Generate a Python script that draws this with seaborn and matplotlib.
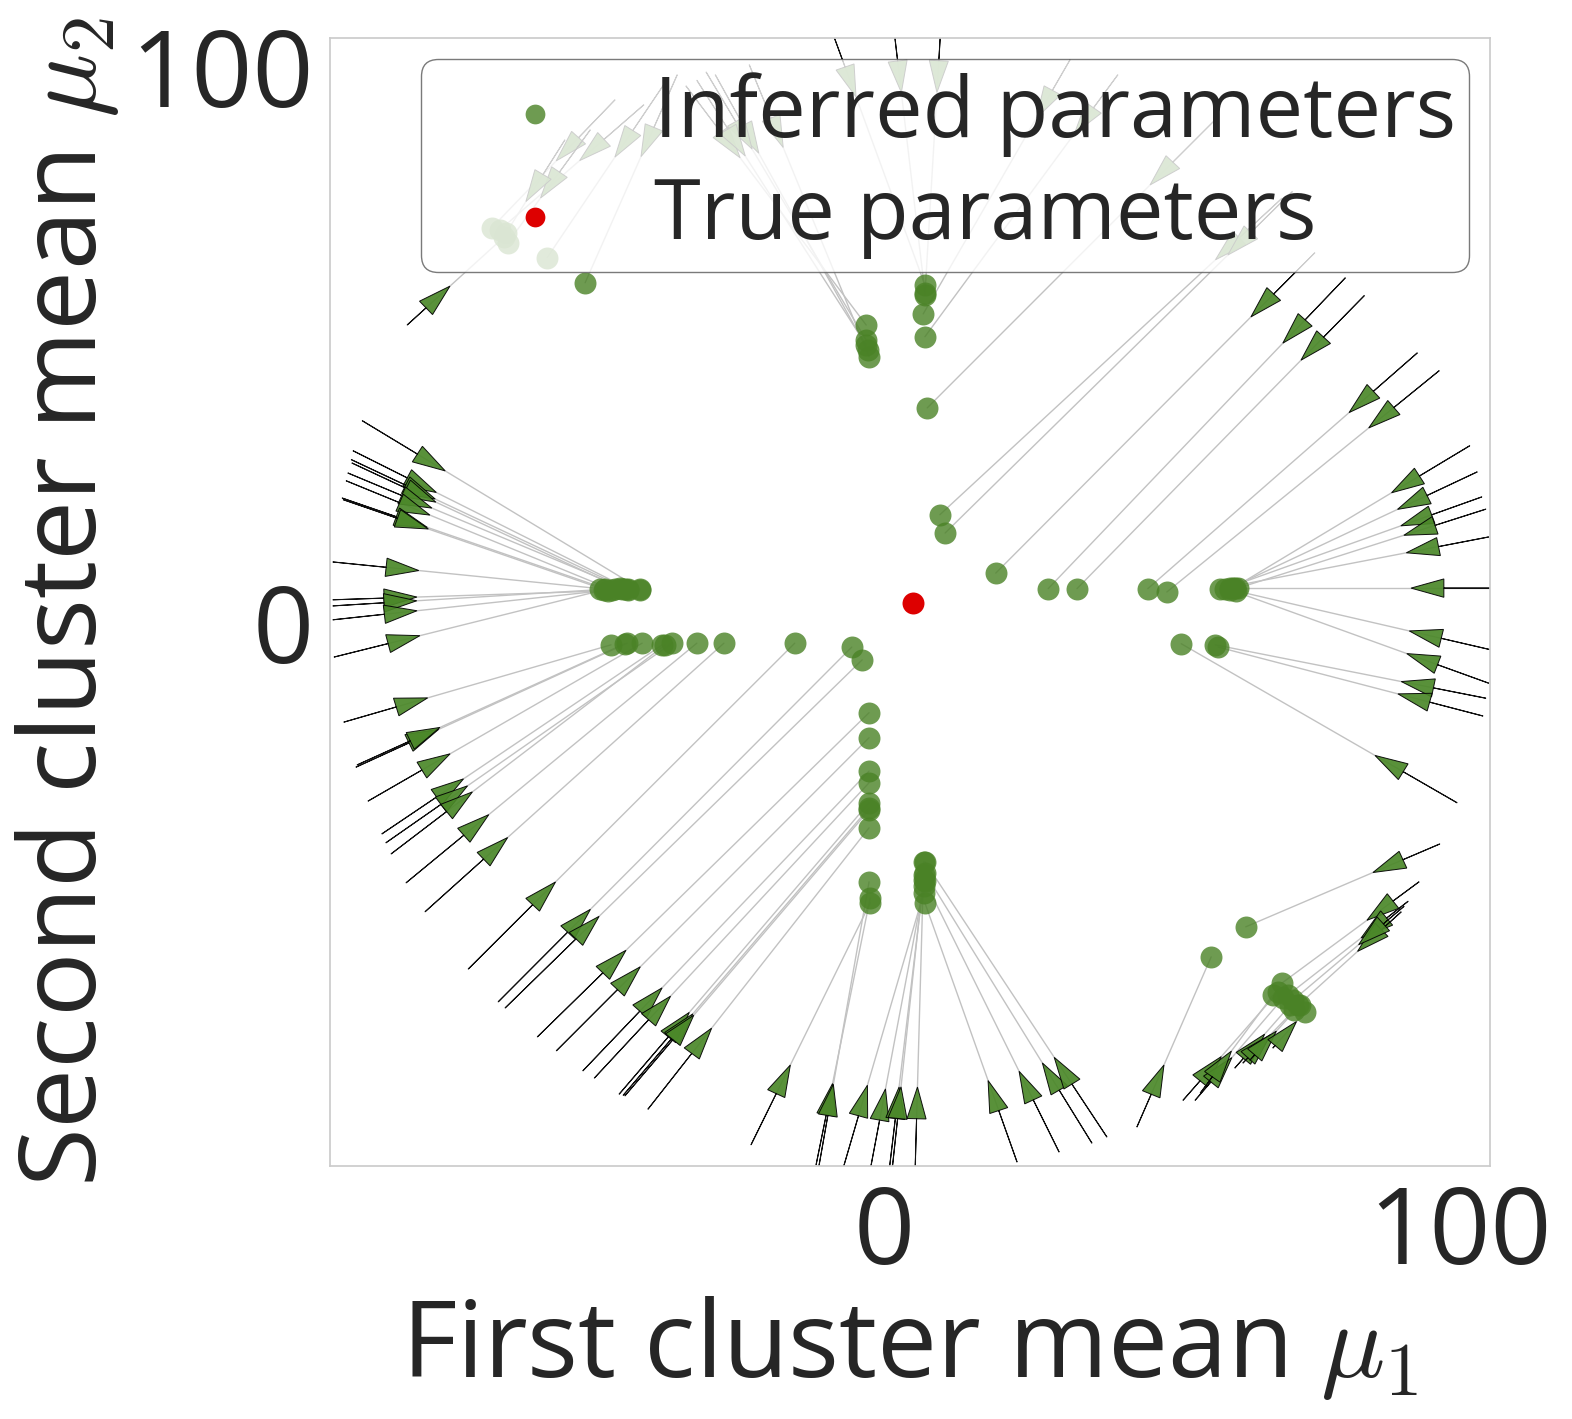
import numpy as np
import pandas as pd
import matplotlib
matplotlib.use("Agg")
import matplotlib.pyplot as plt
import matplotlib.transforms as mtransforms
import seaborn as sns

# initial guess (start), final inferred value (end) and length of the first step
x_start = [
    -90.6, -92.2, -92.5, -92.4, -93.1, -93.4, -94.1, -93.9, -95.7, -95.7, -95.7, -95.7, -95.5,
    -93.8, -91.7, -91.5, -89.6, -87.2, -86.5, -85.6, -83.0, -79.7, -72.2, -67.0, -65.8,
    -60.2, -56.9, -52.3, -50.3, -46.0, -45.3, -45.0, -41.0,
    -23.1, -11.8, -11.3, -7.1, -2.4, 0.9, 1.4, 5.4,
    23.1, 30.4, 36.1, 38.7,
    43.9,
    96.5, 92.9, 91.0, 89.8, 90.3,
    51.9, 54.0, 54.9, 60.9, 62.3, 63.5, 67.5,
    101.7, 103.0, 103.8, 104.5, 105.0, 106.3, 105.4, 105.0, 104.5, 104.0, 99.5,
    74.8, 80.1, 83.4, 92.6, 96.4, 69.1, 70.9, 57.3,
    -10.2, 1.2, 10.1, -34.4, -29.3, -23.4, -30.9, -32.5, 32.3, 40.6,
    -41.7, -46.7, -51.0, -55.4, -38.0, -35.9, -82.8,
]
y_start = [
    37.8, 32.4, 30.8, 30.2, 28.4, 27.0, 23.9, 23.6, 12.4, 5.6, 4.5, 2.0, -4.7,
    -16.4, -24.5, -24.1, -30.6, -36.5, -38.1, -40.1, -45.3, -50.5, -60.8, -66.7, -67.8,
    -73.0, -75.5, -79.1, -80.4, -83.3, -83.5, -83.6, -86.0,
    -92.4, -96.0, -96.2, -96.6, -96.9, -96.9, -96.9, -96.9,
    -95.5, -93.7, -92.1, -91.0,
    -89.2,
    -38.3, -45.1, -48.6, -50.5, -49.5,
    -84.4, -84.4, -83.1, -78.6, -77.7, -77.2, -75.0,
    33.3, 28.6, 24.1, 21.9, 16.9, 7.7, -3.4, -9.4, -12.1, -15.3, -30.9,
    68.0, 63.5, 60.3, 50.0, 46.8, 77.8, 79.0, 91.7,
    111.1, 112.7, 112.8, 98.0, 100.0, 101.8, 100.5, 99.0, 102.7, 100.0,
    94.6, 95.5, 90.1, 88.3, 98.6, 100.0, 55.0,
]
x_end = [
    -42.4, -44.4, -44.4, -45.8, -45.0, -47.2, -48.4, -47.9, -49.3, -42.4, -46.7, -45.5, -48.6,
    -47.4, -44.6, -45.0, -42.0, -38.5, -36.8, -38.0, -32.5, -27.8, -15.5, -5.6, -3.8,
    -2.6, -2.6, -2.6, -2.6, -2.6, -2.6, -2.6, -2.6,
    -2.4, -2.4, -2.6, 6.9, 6.9, 6.9, 6.9, 6.9,
    7.1, 7.1, 7.1, 7.1,
    56.8,
    62.8, 69.1, 70.1, 71.9, 71.0,
    68.4, 69.3, 67.5, 70.5, 71.2, 72.2, 73.1,
    60.6, 60.1, 59.2, 61.5, 58.3, 60.9, 61.1, 60.1, 57.5, 58.0, 51.6,
    19.4, 28.5, 33.5, 45.8, 49.1, 9.7, 10.6, 7.5,
    7.1, 7.1, 7.1, -3.1, -2.8, -2.6, -3.1, -3.1, 6.8, 7.1,
    -66.7, -68.1, -65.3, -65.6, -58.5, -51.9, -66.0,
]
y_end = [
    7.6, 7.6, 7.4, 7.7, 7.6, 7.4, 7.6, 7.2, 7.6, 7.4, 7.6, 7.6, 7.4,
    -2.5, -2.2, -2.3, -2.2, -2.5, -2.2, -2.5, -2.2, -2.2, -2.2, -2.9, -5.2,
    -14.7, -19.2, -25.2, -27.3, -30.9, -31.8, -32.2, -35.4,
    -48.9, -48.0, -45.1, -47.1, -45.9, -44.8, -43.9, -41.5,
    -48.9, -45.0, -43.5, -41.5,
    -58.6,
    -53.2, -63.3, -65.5, -67.3, -66.4,
    -64.9, -66.0, -65.5, -67.3, -68.2, -67.3, -68.5,
    7.7, 7.7, 7.6, 7.7, 7.6, 7.7, 7.2, 7.4, -2.5, -2.9, -2.3,
    10.4, 7.6, 7.6, 7.6, 7.0, 20.9, 17.6, 40.1,
    62.2, 60.8, 60.4, 55.0, 50.5, 49.3, 52.3, 51.4, 57.0, 52.9,
    72.1, 72.5, 69.8, 71.6, 67.1, 62.6, 70.8,
]
first_step = [
    17.0, 16.3, 16.2, 16.2, 15.9, 15.8, 15.7, 15.7, 15.0, 14.6, 14.6, 14.7, 15.4,
    15.2, 15.9, 15.9, 16.6, 17.3, 17.5, 18.0, 18.9, 19.6, 21.8, 23.1, 23.2,
    21.9, 21.0, 20.3, 19.8, 19.1, 19.0, 18.8, 18.3,
    15.9, 14.9, 14.9, 15.5, 14.8, 15.0, 15.0, 14.9,
    15.5, 16.1, 16.8, 17.0,
    12.1,
    12.7, 11.4, 10.5, 10.4, 10.5,
    10.3, 10.0, 9.3, 8.0, 7.0, 7.0, 6.3,
    16.0, 15.4, 15.0, 15.0, 14.6, 14.8, 14.6, 15.2, 15.0, 15.3, 16.6,
    16, 16, 16, 16, 16, 16, 16, 16,
    16, 16, 16, 16, 16, 16, 16, 16, 12, 13,
    15, 15, 15, 13, 16, 16, 10.2,
]

true_mu1 = [5.0]
true_mu2 = [5.0]

green = "#4a8226"

sns.set_theme(style="whitegrid")
plt.rcParams['font.family'] = ['Open Sans', 'DejaVu Sans']
plt.rcParams['mathtext.fontset'] = 'cm'

fig, ax = plt.subplots(figsize=(15.72, 14.19), dpi=100)
fig.subplots_adjust(left=0.2099, right=0.9478, top=0.9732, bottom=0.1783)
ax.grid(False)

for x0, y0, x1, y1, step in zip(x_start, y_start, x_end, y_end, first_step):
    dist = np.hypot(x1 - x0, y1 - y0)
    ux, uy = (x1 - x0) / dist, (y1 - y0) / dist
    ax.plot([x0, x1], [y0, y1], color="#c2c2c2", lw=1.0, zorder=1)
    ax.arrow(x0, y0, ux * step, uy * step, width=0, head_width=3.3, head_length=5.7,
             length_includes_head=True, fc="#4b8829", ec="black", lw=0.7, alpha=0.92, zorder=2)

ends = pd.DataFrame({"mu1": x_end, "mu2": y_end})
sns.scatterplot(data=ends, x="mu1", y="mu2", color=green, alpha=0.8, s=250, linewidth=0,
                ax=ax, label="Inferred parameters", zorder=3)
sns.scatterplot(x=true_mu1, y=true_mu2, color="#dd0000", s=250, linewidth=0,
                ax=ax, label="True parameters", zorder=4)

ax.set_xlim(-96.2, 105.2)
ax.set_ylim(-96.2, 106.6)
ax.set_xticks([0, 100])
ax.set_yticks([0, 100])
ax.tick_params(labelsize=77)
ax.tick_params(axis="x", pad=6)
ax.tick_params(axis="y", pad=6)
ax.set_xlabel(r"First cluster mean $\mu_1$", fontsize=77, labelpad=4)
ax.set_ylabel(r"Second cluster mean $\mu_2$", fontsize=77, labelpad=6)

# nudge y tick labels up a little so the digits sit on the tick
shift = mtransforms.ScaledTranslation(0, 6 / 72, fig.dpi_scale_trans)
for lbl in ax.get_yticklabels():
    lbl.set_transform(lbl.get_transform() + shift)

ax.legend(loc="upper right", fontsize=61, markerscale=0.9, framealpha=0.8,
          edgecolor="0.35", borderaxespad=0.25, borderpad=0.15, labelspacing=0.22,
          handlelength=2.4, handletextpad=0.2)

plt.savefig("out.png", dpi=100)
